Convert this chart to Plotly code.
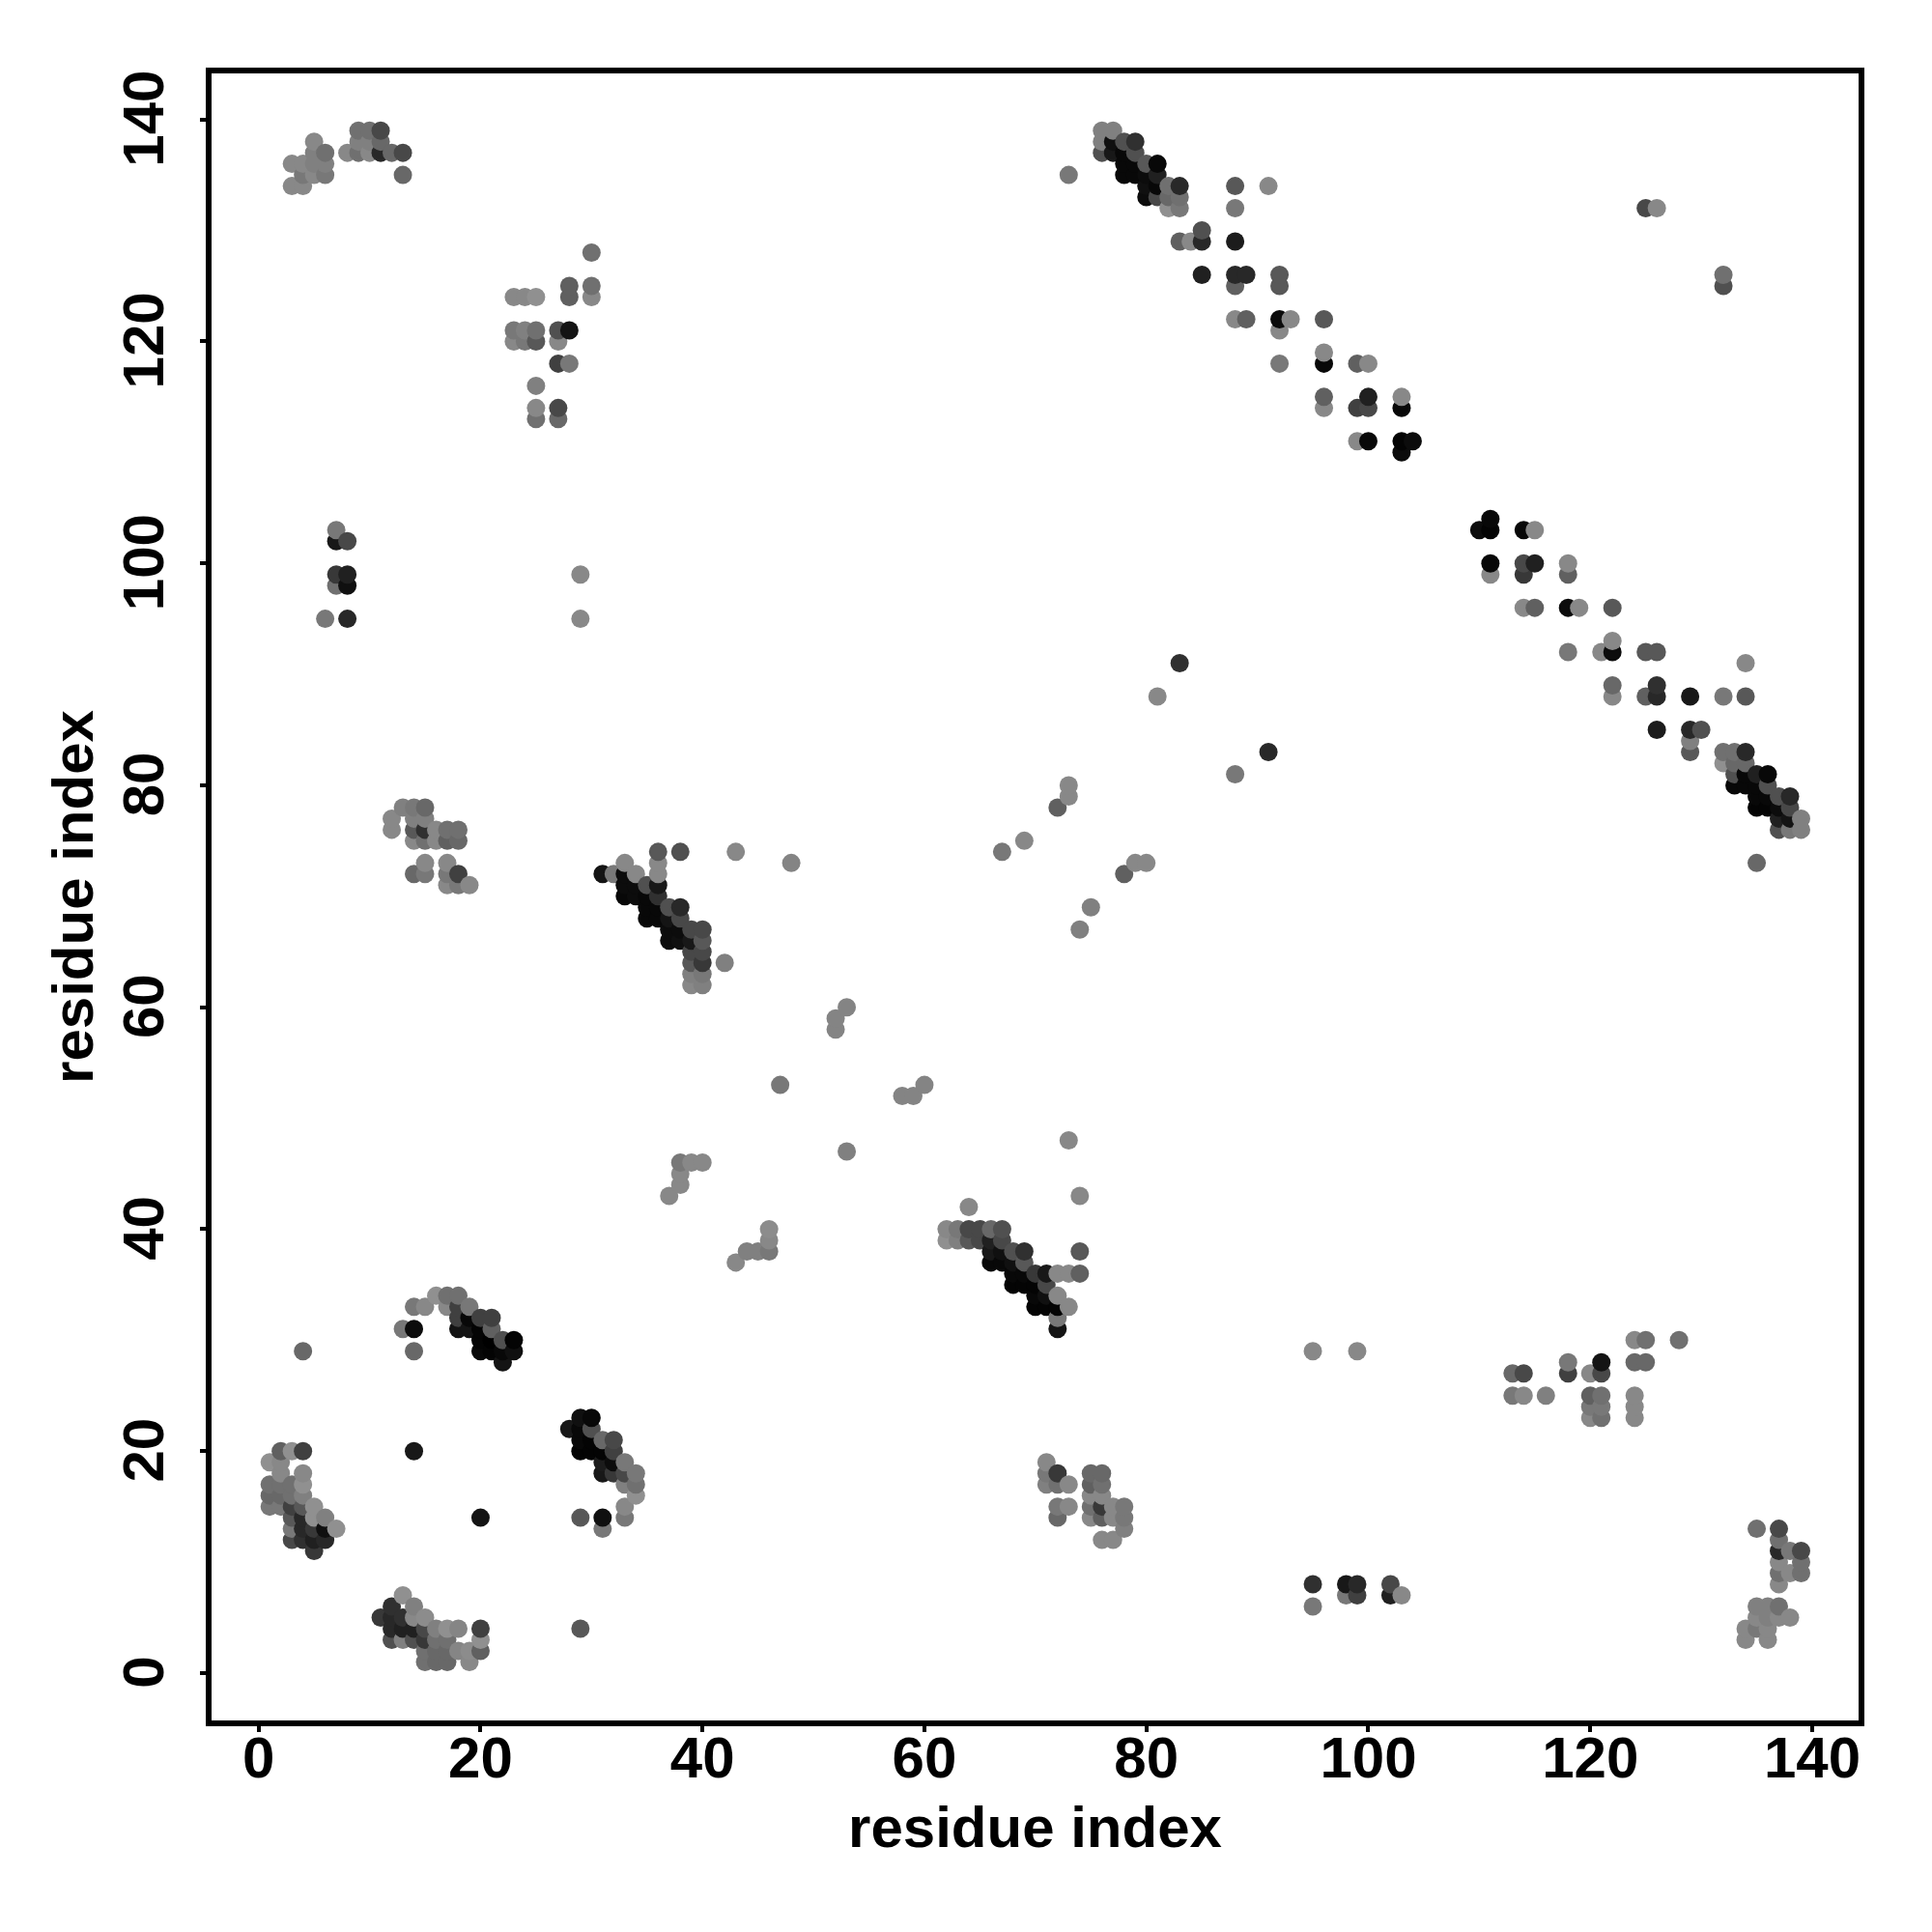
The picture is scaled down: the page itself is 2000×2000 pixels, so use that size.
import plotly.graph_objects as go

row_y = [
 7,6,5,4,3,2,1,
 20,19,18,17,16,15,14,13,12,11,
 34,33,32,31,30,29,28,
 23,22,21,20,19,18,17,16,15,14,13,
 46,45,44,43,40,39,38,37,47,48,43,42,53,59,58,60,52,53,
 40,39,38,37,36,35,34,33,32,31,
 19,18,17,15,14,
 18,17,16,15,14,13,12,
 78,77,76,75,73,72,71,
 74,73,72,71,70,69,68,67,66,65,64,63,62,74,73,
 135,139,138,137,136,135,134,133,132,130,129,126,125,122,121,
 119,118,115,114,111,110,
 104,103,100,99,96,93,92,91,89,88,85,84,83,
 83,82,81,80,79,78,77,76,73,
 30,28,27,25,24,23,
 13,12,11,10,9,8,6,5,4,3,
 139,138,137,136,135,134,
 128,125,124,121,120,118,116,114,113,
 103,102,99,98,95,4,
 29,8,7,6,
 132,126,125,91,88,83,81,
 75,74,80,79,78,72,73,69,67,
]
row_x = [
 [13],[12,14],[11,12,13,14,15],[12,13,14,15,16,17,18,20],[12,13,14,15,16,17,20],[15,16,17,18,19,20],[15,16,17,19],
 [2,3,4,14],[1,2],[2,4],[1,2,3,4],[1,2,3,4],[1,2,3,4,5],[3,4,5,6,20],[3,4,5,6,7],[3,4,5,6],[5],
 [16,17,18],[14,15,17,18,19],[18,19,20,21],[13,14,18,19,20,21],[20,21,22,23],[4,14,20,21,22,23],[22],
 [29,30],[28,29,30],[29,30,31,32],[29,30,31,32],[31,32,33],[31,32,33,34],[33,34],[34],[33],[29,31,33],[31],
 [38,39,40],[38],[38],[37],[46],[46],[44,45,46],[43],[53],[73],[74],[64],[47],[52],[52],[53],[58,59],[60],
 [62,63,64,65,66,67],[62,63,64,65,66,67],[66,67,68,69,74],[66,67,68,69],[68,69,70,71,72,73,74],[68,69,70,71],[70,71,72],[70,71,72,73],[72],[72],
 [71],[71,72],[71,72,73],[72,73],[72],
 [75,76],[75,76],[75,76],[75,76,77,78],[75,76,77,78],[78],[76,77],
 [13,14,15],[12,14,15],[12,14,15,16,17,18],[14,15,16,17,18],[15,17],[14,15,17,18],[17,18,19],
 [36,38,43],[33,36,48],[31,32,33,34,36],[33,34,35,36],[33,34,35,36],[35,36,37,38],[35,36,37,38],[37,38,39,40],[37,38,39,40],[39,40],[39,40,42],[39,40],[39,40],[67],[79,80],
 [73],[76,77],[76,77,78,79],[76,77,78,79],[78,79,80,81],[78,79,80,81],[80,81,82,83,88,91],[80,81,82,83],[82,83,88],[85],[83,84,85,88],[85,88,89,92],[88,92],[88,89,92,93,96],[92],
 [96],[92,96,99,100],[96,100,103],[96,99,100,103],[99,100,103,104],[103],
 [111],[110,111,114,115],[111,114,115,118],[111,114,118],[114,115,118,119,122],[122],[118,121,122,125,126],[134],[122,126],[122,125,126,129,132,134],[126,129,130],[129],[129],
 [132,133,134],[132,133,134],[133,134,135,136],[133,134,135,136],[135,136,137,138],[135,136,137,138],[137,138,139],[137,138,139],[135],
 [124,125,128],[118,121,124,125],[113,114,118,120,121],[113,114,116,120,121,124],[120,121,124],[120,121,124],
 [135,137],[137],[137,138,139],[137,139],[137,138,139],[137],[135,136,137],[135,136,137,138],[134,135,136],[134,136],
 [9,10,11],[5,9,10,11],[5,6,8,9,10,11,12,13],[3,4,5,6],[4,5,6,13],[3,4],
 [30],[28,30],[23,24,25,28,30],[23,24,25,27,28],[23,24,25,27],[27,28],[25],[25,27],[25,27],
 [7],[7,8],[7,8,29],[7,8],[6,8,29],[29],
 [95,99],[95,98,99,102],[98,99,102,103],[95],
 [125,126],[132],[132],[83],[81],[91],[88],
 [69],[67],[73],[73],[72],[78],[79],[75],[74],
]
row_gray = [
 [0x90],[0x30,0x80],[0x38,0x28,0x30,0x88,0x8c],[0x28,0x20,0x20,0x48,0x80,0x90,0x85,0x40],[0x50,0x80,0x50,0x38,0x70,0x70,0x90],[0x70,0x68,0x68,0x85,0x8c,0x60],[0x70,0x68,0x68,0x88],
 [0x60,0x90,0x40,0x18],[0x90,0x88],[0x88,0x88],[0x70,0x70,0x70,0x90],[0x68,0x68,0x70,0x80],[0x78,0x78,0x40,0x58,0x90],[0x58,0x28,0x90,0x80,0x14],[0x78,0x28,0x38,0x10,0x90],[0x48,0x30,0x20,0x28],[0x38],
 [0x90,0x70,0x70],[0x78,0x88,0x88,0x40,0x78],[0x40,0x08,0x40,0x40],[0x78,0x0c,0x14,0x14,0x04,0x60],[0x04,0x00,0x50,0x04],[0x68,0x68,0x08,0x04,0x08,0x10],[0x14],
 [0x10,0x08],[0x18,0x08,0x50],[0x08,0x04,0x68,0x48],[0x04,0x04,0x04,0x40],[0x1c,0x0c,0x78],[0x18,0x38,0x48,0x78],[0x80,0x70],[0x90],[0x88],[0x58,0x10,0x78],[0x78],
 [0x78,0x88,0x88],[0x88],[0x88],[0x88],[0x8c],[0x88],[0x80,0x80,0x78],[0x88],[0x80],[0x88],[0x88],[0x88],[0x78],[0x84],[0x84],[0x84],[0x84,0x84],[0x84],
 [0x88,0x78,0x48,0x48,0x68,0x50],[0x90,0x80,0x58,0x48,0x20,0x48],[0x18,0x10,0x50,0x30,0x58],[0x08,0x08,0x10,0x58],[0x08,0x08,0x38,0x18,0x88,0x88,0x60],[0x04,0x04,0x04,0x48],[0x08,0x10,0x88],[0x04,0x04,0x04,0x88],[0x78],[0x14],
 [0x88],[0x78,0x38],[0x80,0x70,0x88],[0x78,0x88],[0x68],
 [0x68,0x68],[0x60,0x70],[0x88,0x88],[0x70,0x38,0x88,0x78],[0x88,0x60,0x88,0x78],[0x80],[0x88,0x88],
 [0x80,0x78,0x68],[0x88,0x80,0x80],[0x88,0x58,0x30,0x88,0x70,0x70],[0x88,0x70,0x88,0x60,0x68],[0x88,0x88],[0x68,0x78,0x78,0x40],[0x88,0x78,0x88],
 [0x58,0x50,0x88],[0x88,0x88,0x84],[0x14,0x78,0x0c,0x88,0x88],[0x0c,0x0c,0x50,0x18],[0x08,0x0c,0x08,0x30],[0x08,0x08,0x50,0x28],[0x08,0x08,0x14,0x48],[0x0c,0x0c,0x48,0x48],[0x0c,0x10,0x18,0x58],[0x48,0x48],[0x58,0x38,0x80],[0x80,0x78],[0x88,0x80],[0x78],[0x88,0x88],
 [0x78],[0x80,0x80],[0x80,0x10,0x50,0x30],[0x50,0x18,0x08,0x50],[0x08,0x08,0x58,0x08],[0x08,0x08,0x0c,0x20],[0x10,0x08,0x70,0x28,0x58,0x88],[0x0c,0x48,0x68,0x70],[0x90,0x78,0x78],[0x50],[0x60,0x88,0x28,0x1c],[0x20,0x28,0x28,0x58],[0x60,0x58],[0x88,0x60,0x0c,0x88,0x58],[0x88],
 [0x88],[0x78,0x08,0x60,0x88],[0x60,0x20,0x88],[0x88,0x40,0x48,0x08],[0x88,0x08,0x04,0x0c],[0x0c],
 [0x08],[0x0c,0x04,0x08,0x88],[0x08,0x48,0x20,0x88],[0x88,0x38,0x60],[0x88,0x60,0x0c,0x88,0x58],[0x88],[0x78,0x88,0x0c,0x58,0x58],[0x88],[0x68,0x30],[0x88,0x60,0x28,0x18,0x78,0x58],[0x1c,0x28,0x50],[0x80],[0x58],
 [0x70,0x70,0x28],[0x90,0x68,0x68],[0x50,0x08,0x20,0x08],[0x08,0x08,0x08,0x50],[0x08,0x08,0x50,0x28],[0x04,0x04,0x0c,0x48],[0x20,0x14,0x80],[0x50,0x78,0x80],[0x68],
 [0x88,0x70,0x70],[0x78,0x14,0x68,0x68],[0x68,0x48,0x40,0x88,0x48],[0x78,0x88,0x80,0x60,0x70,0x88],[0x78,0x78,0x88],[0x88,0x70,0x88],
 [0x70,0x48],[0x70],[0x28,0x78,0x48],[0x88,0x70],[0x70,0x88,0x70],[0x88],[0x80,0x80,0x70],[0x88,0x80,0x88,0x88],[0x88,0x78,0x88],[0x88,0x88],
 [0x70,0x70,0x48],[0x88,0x80,0x80,0x68],[0x80,0x70,0x88,0x70,0x88,0x28,0x68,0x48],[0x88,0x88,0x80,0x80],[0x78,0x88,0x78,0x68],[0x88,0x88],
 [0x70],[0x60,0x70],[0x88,0x88,0x90,0x60,0x88],[0x78,0x80,0x70,0x50,0x14],[0x88,0x78,0x58,0x88],[0x40,0x78],[0x80],[0x88,0x48],[0x70,0x68],
 [0x78],[0x18,0x48],[0x38,0x20,0x88],[0x70,0x10],[0x78,0x28,0x88],[0x58],
 [0x88,0x88],[0x30,0x18,0x28,0x48],[0x78,0x40,0x20,0x88],[0x78],
 [0x48,0x88],[0x70],[0x50],[0x30],[0x88],[0x28],[0x78],
 [0x88],[0x78],[0x88],[0x88],[0x60],[0x60],[0x88],[0x80],[0x80],
]
x_ticks = [0, 20, 40, 60, 80, 100, 120, 140]
y_ticks = [0, 20, 40, 60, 80, 100, 120, 140]
axis_label = "residue index"

points = []
for y, xs, gs in zip(row_y, row_x, row_gray):
    for x, g in zip(xs, gs):
        points.append((x, y, g))
points = sorted(set(points), key=lambda p: (p[0], p[1]))

FONT = "Liberation Sans"
fig = go.Figure(go.Scatter(
    x=[p[0] for p in points], y=[p[1] for p in points], mode="markers",
    marker=dict(size=19, color=[f"rgb({p[2]},{p[2]},{p[2]})" for p in points], line=dict(width=0)),
    hoverinfo="x+y", showlegend=False))

common = dict(showgrid=False, zeroline=False, showline=True, mirror=True, linewidth=6, linecolor="black",
              ticks="outside", ticklen=6, tickwidth=4, tickcolor="black",
              tickfont=dict(family=FONT, size=60, color="black", weight="bold"), automargin=False)
title_font = dict(family=FONT, size=60, color="black", weight="bold")
fig.update_xaxes(range=[-4.24, 144.18], tickvals=x_ticks, ticktext=[str(v) for v in x_ticks],
                 ticklabelstandoff=-25,
                 title=dict(text=axis_label, font=title_font, standoff=20), **common)
fig.update_yaxes(range=[-4.27, 144.15], tickvals=y_ticks, ticktext=[str(v) for v in y_ticks], tickangle=-90,
                 ticklabelstandoff=14, ticklabelshift=8,
                 title=dict(text=axis_label, font=title_font, standoff=1), **common)
fig.update_layout(width=2000, height=2000, autosize=False, paper_bgcolor="white", plot_bgcolor="white",
                  margin=dict(l=219, r=76, t=76, b=219, pad=0))
fig.write_html("out.html", post_script="document.body.style.margin='0';", config=dict(displayModeBar=False))
